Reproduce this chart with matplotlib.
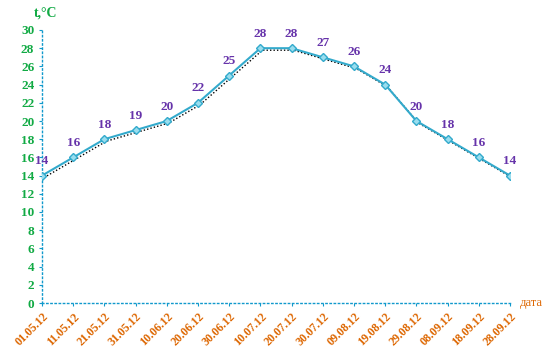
import matplotlib
matplotlib.use("Agg")
import matplotlib.pyplot as plt
import matplotlib.transforms as mtransforms

dates = ["01.05.12", "11.05.12", "21.05.12", "31.05.12", "10.06.12", "20.06.12",
         "30.06.12", "10.07.12", "20.07.12", "30.07.12", "09.08.12", "19.08.12",
         "29.08.12", "08.09.12", "18.09.12", "28.09.12"]
temps = [14, 16, 18, 19, 20, 22, 25, 28, 28, 27, 26, 24, 20, 18, 16, 14]
yticks = list(range(0, 31, 2))

fig = plt.figure(figsize=(5.58, 3.63), dpi=100)
ax = fig.add_axes([42/558, 60/363, (510-42)/558, (303-30)/363])
x = list(range(len(dates)))

# shadow
shadow = mtransforms.offset_copy(ax.transData, fig=fig, x=2, y=-2, units='dots')
ax.plot(x, temps, color='black', lw=1, ls=(0, (1, 1.5)), transform=shadow, zorder=2)
ax.plot(x, temps, color='#33aacc', lw=1.5, marker='D', ms=4.5,
        markerfacecolor='#99ddee', markeredgecolor='#33aacc', zorder=3)

for xi, t in zip(x, temps):
    ax.annotate(str(t), (xi, t), xytext=(0, 6), textcoords='offset points',
                ha='center', va='bottom', color='#6633aa', fontsize=9.5,
                fontweight='bold', family='Liberation Serif')

ax.set_xlim(0, len(dates) - 1)
ax.set_ylim(0, 30)
for s in ['top', 'right']:
    ax.spines[s].set_visible(False)
for s in ['left', 'bottom']:
    ax.spines[s].set_color('#1199cc')
    ax.spines[s].set_linestyle((0, (1, 2)))
    ax.spines[s].set_linewidth(1)

ax.set_yticks(yticks)
ax.set_yticklabels([str(v) for v in yticks], fontsize=9.5,
                   fontweight='bold', family='Liberation Serif')
ax.set_xticks(x)
ax.set_xticklabels(dates, rotation=45, ha='right', rotation_mode='anchor',
                   fontsize=8.5, fontweight='bold', family='Liberation Serif')
ax.tick_params(axis='both', colors='#1199cc', length=2, width=0.8, direction='out')
for lbl in ax.get_yticklabels():
    lbl.set_color('#11aa44')
for lbl in ax.get_xticklabels():
    lbl.set_color('#dd6600')

fig.text(34/558, 1 - 13/363, "t,°C", color='#11aa44', fontsize=10,
         fontweight='bold', family='Liberation Serif', va='center', ha='left')
fig.text(520/558, 1 - 303/363, "дата", color='#dd6600', fontsize=9,
         family='Liberation Serif', va='center', ha='left')

fig.savefig("out.png", dpi=100)
